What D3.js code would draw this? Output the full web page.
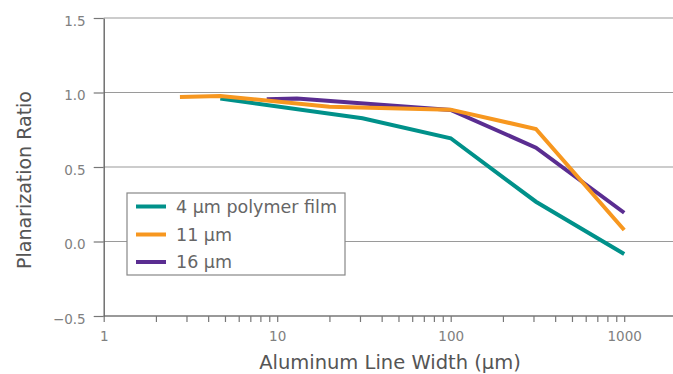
<!DOCTYPE html>
<html><head><meta charset="utf-8">
<script src="https://cdn.jsdelivr.net/npm/d3@7"></script>
<style>body{margin:0;background:#fff}svg{display:block;font-family:"DejaVu Sans",sans-serif}</style>
</head><body><svg id="c" width="673" height="374"></svg>
<script>
const seriesNames = ["4 µm polymer film", "11 µm", "16 µm"];
const seriesColors = ["#00918A", "#F7971F", "#5A2D91"];
const teal = [[4.7,0.96],[31,0.827],[100,0.693],[310,0.267],[1000,-0.084]];
const orange = [[2.75,0.97],[4.7,0.976],[20,0.905],[100,0.885],[310,0.755],[1000,0.077]];
const purple = [[8.7,0.955],[13,0.96],[100,0.883],[310,0.63],[1000,0.193]];
const yTicks = [-0.5, 0, 0.5, 1.0, 1.5];
const xMajor = [1, 10, 100, 1000];
const xDomain = [1, 2000];
const yDomain = [-0.5, 1.5];
const data = [teal, orange, purple];

const svg = d3.select("#c");
const x0 = 103.7, decade = 173.5;
const x = d3.scaleLog().domain(xDomain).range([x0, x0 + decade*Math.log10(xDomain[1])]);
const y = d3.scaleLinear().domain(yDomain).range([316, 18]);

// gridlines
svg.append("g").selectAll("line").data(yTicks.filter(d=>d>-0.5)).join("line")
  .attr("x1", x0).attr("x2", 673).attr("y1", d=>y(d)).attr("y2", d=>y(d))
  .attr("stroke", "#9a9a9a").attr("stroke-width", 1.2);

// x axis
const xMinor = [];
for (let e=0;e<4;e++) for (let m=1;m<=9;m++){const v=m*Math.pow(10,e); if(v<=xDomain[1]) xMinor.push(v);}
const xAxis = d3.axisBottom(x).tickValues(xMinor).tickSize(6).tickSizeOuter(0)
  .tickFormat(d => xMajor.includes(d) ? String(d) : "");
const gx = svg.append("g").attr("transform", `translate(0,${y(-0.5)})`).call(xAxis);
gx.select(".domain").attr("stroke", "#777").attr("stroke-width", 1.4).attr("d", `M${x0},0H673`);
gx.selectAll(".tick line").attr("stroke", "#777").attr("stroke-width", 1.2);
gx.selectAll(".tick text").attr("fill", "#808080").attr("font-size", 13.5).attr("font-family", "DejaVu Sans").attr("dy", "16px");

// y axis
const yAxis = d3.axisLeft(y).tickValues(yTicks).tickSize(10).tickSizeOuter(0)
  .tickFormat(d => d3.format(".1f")(d).replace("-", "\u2212"));
const gy = svg.append("g").attr("transform", `translate(${x0},0)`).call(yAxis);
gy.select(".domain").attr("stroke", "#666").attr("stroke-width", 1.4);
gy.selectAll(".tick line").attr("stroke", "#777").attr("stroke-width", 1.2);
gy.selectAll(".tick text").attr("fill", "#808080").attr("font-size", 13.5).attr("font-family", "DejaVu Sans").attr("x", -18).attr("dy", "0.55em");

// lines
const line = d3.line().x(d=>x(d[0])).y(d=>y(d[1]));
const order = [0, 2, 1];
order.forEach(i => {
  svg.append("path").datum(data[i]).attr("d", line).attr("fill", "none")
    .attr("stroke", seriesColors[i]).attr("stroke-width", 4).attr("stroke-linejoin", "miter");
});

// legend
const lg = svg.append("g");
lg.append("rect").attr("x", 127).attr("y", 193).attr("width", 218).attr("height", 82)
  .attr("fill", "#fff").attr("stroke", "#888").attr("stroke-width", 1.2);
const ly = [206.5, 234.5, 262];
seriesNames.forEach((n,i) => {
  lg.append("line").attr("x1", 136).attr("x2", 166).attr("y1", ly[i]).attr("y2", ly[i])
    .attr("stroke", seriesColors[i]).attr("stroke-width", 4);
  lg.append("text").attr("x", 176).attr("y", ly[i] + 6.3)
    .attr("font-size", 17.5).attr("fill", "#666").text(n);
});

// titles
svg.append("text").attr("x", 390).attr("y", 368.5).attr("text-anchor", "middle")
  .attr("font-size", 19.5).attr("fill", "#555").text("Aluminum Line Width (µm)");
svg.append("text").attr("transform", "translate(31,180) rotate(-90)").attr("text-anchor", "middle")
  .attr("font-size", 19).attr("fill", "#555").text("Planarization Ratio");
</script></body></html>
